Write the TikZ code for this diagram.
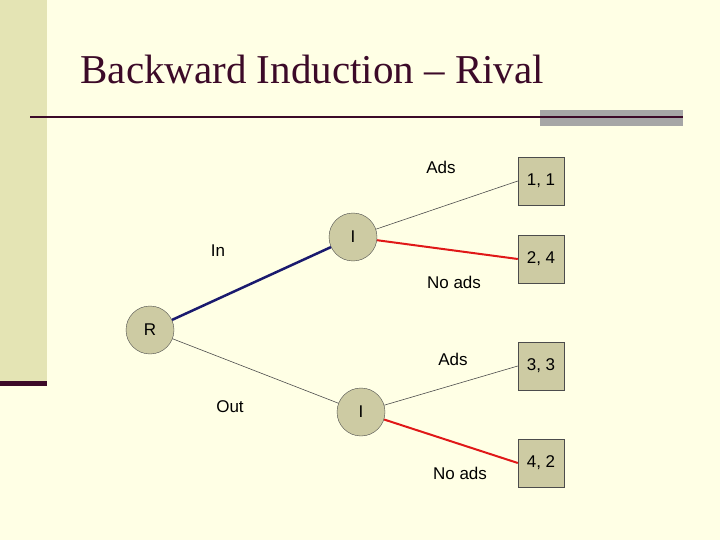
\documentclass[tikz,border=0pt]{standalone}
\usepackage{fontspec}
\setmainfont{Liberation Sans}
\newfontfamily\titlefont{Liberation Serif}
\usepackage{tikz}
\usetikzlibrary{calc}
\definecolor{bgyellow}{HTML}{FFFFE5}
\definecolor{khakibar}{HTML}{E4E4B4}
\definecolor{maroon}{HTML}{3C0A28}
\definecolor{nodefill}{HTML}{CDCBA3}
\definecolor{navy}{HTML}{1A1A6E}
\definecolor{redline}{HTML}{E01818}
\begin{document}
\begin{tikzpicture}[x=1pt, y=-1pt,
    player/.style={circle, draw=black!70, fill=nodefill, minimum size=48pt, inner sep=0pt, font=\fontsize{17}{17}\selectfont},
    payoff/.style={rectangle, draw=black!70, fill=nodefill, minimum width=46pt, minimum height=48pt, inner sep=0pt, font=\fontsize{17}{17}\selectfont},
    lbl/.style={font=\fontsize{17}{17}\selectfont},
    thin edge/.style={draw=black!70, line width=0.6pt}]
            \fill[bgyellow] (0,0) rectangle (720,540);
            \fill[khakibar] (0,0) rectangle (47,385);
            \fill[maroon] (0,381) rectangle (47,386);
            \draw[maroon, line width=2.5pt] (30,117) -- (540,117);
            \fill[black!35] (540,110) rectangle (683,126);
            \draw[maroon, line width=2.5pt] (540,117) -- (683,117);
            \node[anchor=west, font=\titlefont\fontsize{41}{41}\selectfont, text=maroon] (title) at (77,69) {Backward Induction – Rival};

            \node[player] (R) at (150,330) {R};
            \node[player] (I1) at (353,237) {I};
            \node[player] (I2) at (361,412) {I};
            \node[payoff] (P1) at (541,181) {1, 1};
            \node[payoff] (P2) at (541,259) {2, 4};
            \node[payoff] (P3) at (541,366) {3, 3};
            \node[payoff] (P4) at (541,463) {4, 2};

            \draw[navy, line width=2.5pt] (R) -- (I1);
            \draw[thin edge] (R) -- (I2);
            \draw[thin edge] (I1) -- (P1.west);
            \draw[redline, line width=2pt] (I1) -- (P2.west);
            \draw[thin edge] (I2) -- (P3.west);
            \draw[redline, line width=2pt] (I2) -- (P4.west);

            \node[lbl] (inlbl) at (218,251) {In};
            \node[lbl] (outlbl) at (230,407) {Out};
            \node[lbl] (ads1) at (441,167) {Ads};
            \node[lbl] (noads1) at (454,282) {No ads};
            \node[lbl] (ads2) at (453,359) {Ads};
            \node[lbl] (noads2) at (460,473) {No ads};
        \end{tikzpicture}
\end{document}
